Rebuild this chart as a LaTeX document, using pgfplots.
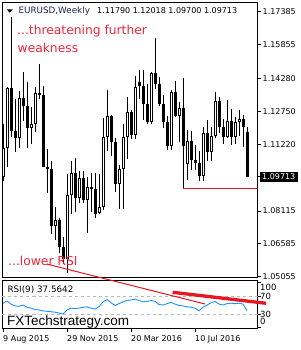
\documentclass[border=0pt]{standalone}
\usepackage{pgfplots}
\pgfplotsset{compat=1.18}
\usepackage{pgfplotstable}
\usepackage{fontspec}
\setmainfont{DejaVu Sans}
\newfontfamily\dv{DejaVu Sans}
\newfontfamily\ls{Liberation Sans}
\definecolor{txtred}{RGB}{238,38,58}
\definecolor{lnred}{RGB}{232,22,32}
\definecolor{rsiblue}{RGB}{30,144,255}
\definecolor{titleblue}{RGB}{25,35,80}
\definecolor{silverline}{RGB}{185,185,185}

\pgfplotstableread{
i o h l c
0 1.0970 1.1214 1.0950 1.1105
1 1.1105 1.1390 1.1018 1.1385
2 1.1385 1.1714 1.1156 1.1183
3 1.1183 1.1332 1.1087 1.1150
4 1.1150 1.1370 1.1105 1.1337
5 1.1337 1.1460 1.1231 1.1300
6 1.1300 1.1410 1.1105 1.1195
7 1.1195 1.1295 1.1125 1.1215
8 1.1215 1.1390 1.1180 1.1360
9 1.1360 1.1495 1.1330 1.1350
10 1.1350 1.1395 1.1017 1.1015
11 1.1015 1.1100 1.0895 1.1005
12 1.1005 1.1045 1.0705 1.0740
13 1.0740 1.0830 1.0675 1.0770
14 1.0770 1.0780 1.0617 1.0645
15 1.0645 1.0690 1.0565 1.0590
16 1.0590 1.0982 1.0524 1.0885
17 1.0885 1.1045 1.0795 1.0990
18 1.0990 1.1060 1.0805 1.0870
19 1.0870 1.0995 1.0850 1.0965
20 1.0965 1.0995 1.0850 1.0860
21 1.0860 1.0970 1.0710 1.0925
22 1.0925 1.0990 1.0805 1.0915
23 1.0915 1.0990 1.0780 1.0795
24 1.0800 1.0985 1.0795 1.0830
25 1.0830 1.1245 1.0815 1.1155
26 1.1155 1.1376 1.1090 1.1255
27 1.1255 1.1260 1.1065 1.1130
28 1.1130 1.1150 1.0900 1.0935
29 1.0935 1.1025 1.0822 1.1005
30 1.1005 1.1218 1.0822 1.1155
31 1.1155 1.1342 1.1055 1.1270
32 1.1270 1.1280 1.1145 1.1165
33 1.1165 1.1437 1.1145 1.1390
34 1.1410 1.1465 1.1330 1.1395
35 1.1395 1.1465 1.1235 1.1310
36 1.1310 1.1400 1.1215 1.1225
37 1.1225 1.1460 1.1215 1.1455
38 1.1455 1.1616 1.1380 1.1400
39 1.1400 1.1435 1.1300 1.1310
40 1.1310 1.1350 1.1195 1.1225
41 1.1225 1.1255 1.1095 1.1115
42 1.1115 1.1375 1.1095 1.1365
43 1.1365 1.1415 1.1250 1.1255
44 1.1255 1.1320 1.1130 1.1290
45 1.1290 1.1428 1.0915 1.1115
46 1.1030 1.1188 1.0955 1.1135
47 1.1135 1.1185 1.1000 1.1050
48 1.1050 1.1120 1.1000 1.1035
49 1.1035 1.1090 1.0952 1.0975
50 1.0975 1.1200 1.0950 1.1175
51 1.1175 1.1235 1.1045 1.1085
52 1.1085 1.1200 1.1045 1.1160
53 1.1160 1.1366 1.1150 1.1325
54 1.1325 1.1340 1.1175 1.1200
55 1.1200 1.1240 1.1125 1.1155
56 1.1155 1.1328 1.1150 1.1230
57 1.1230 1.1285 1.1120 1.1155
58 1.1155 1.1250 1.1122 1.1225
59 1.1225 1.1280 1.1160 1.1240
60 1.1240 1.1260 1.1110 1.1200
61 1.11790 1.12018 1.09700 1.09713
}\candles

\pgfplotstableread{
i r
0 54
1 59
2 52
3 48
4 47
5 50
6 45
7 43
8 40
9 39
10 37
11 36
12 35
13 34
14 32
15 30
16 39
17 43
18 42
19 43
20 45
21 46
22 43
23 41
24 46
25 57
26 62
27 55
28 49
29 53
30 57
31 60
32 61
33 63
34 60
35 57
36 58
37 60
38 58
39 51
40 50
41 53
42 56
43 52
44 49
45 48
46 46
47 45
48 43
49 37
50 45
51 50
52 55
53 58
54 52
55 50
56 53
57 54
58 53
59 54
60 52
61 37.56
}\rsi

\begin{document}
\begin{tikzpicture}[x=1pt,y=1pt]
\useasboundingbox[fill=white] (0,0) rectangle (300,350);
% main price panel
\begin{axis}[at={(2.5pt,72.5pt)}, anchor=south west,
  width=255pt, height=275pt, scale only axis,
  xmin=-0.125, xmax=63.625, ymin=1.05017, ymax=1.17813,
  axis line style={black, line width=1pt},
  xtick=\empty,
  ytick={1.17385,1.15855,1.14280,1.12750,1.11220,1.08115,1.06585,1.05055},
  yticklabels={1.17385,1.15855,1.14280,1.12750,1.11220,1.08115,1.06585,1.05055},
  ytick pos=right, yticklabel pos=right, tick align=outside,
  major tick length=3pt, tick style={black, line width=0.8pt},
  yticklabel style={font=\dv\fontsize{8}{8}\selectfont, anchor=west, inner sep=0pt, xshift=2pt},
  extra y ticks={1.09713}, extra y tick labels={1.09713},
  extra y tick style={yticklabel style={fill=black, text=white, inner xsep=2.5pt, inner ysep=2pt, xshift=-3pt}},
]
\addplot[black, line width=1pt, quiver={u=0, v=\thisrow{h}-\thisrow{l}}] table[x=i, y=l] {\candles};
\addplot[black, line width=3pt, quiver={u=0, v=\thisrow{c}-\thisrow{o}}] table[x=i, y=o] {\candles};
\addplot[white, line width=1pt, quiver={u=0, v=\thisrow{c}-\thisrow{o}, every arrow/.append style={shorten >=1pt, shorten <=1pt}},
  x filter/.expression={\thisrow{c}>\thisrow{o} ? x : nan}, unbounded coords=discard] table[x=i, y=o] {\candles};
\addplot[lnred, line width=1pt] coordinates {(45,1.0915) (63.625,1.0915)};
\end{axis}
% RSI panel
\begin{axis}[at={(2.5pt,21pt)}, anchor=south west,
  width=255pt, height=48pt, scale only axis,
  xmin=-0.125, xmax=63.625, ymin=-3.3, ymax=103.3,
  axis line style={black, line width=1pt},
  xtick={0,16,32,48}, xticklabels={}, xtick pos=bottom,
  ytick={0,30,70,100}, yticklabels={}, ytick pos=right,
  tick align=outside, major tick length=3pt, tick style={black, line width=0.8pt},
  clip=false,
]
\addplot[silverline, dashed, line width=0.8pt, dash pattern=on 3pt off 3pt] coordinates {(-0.125,70) (63.625,70)};
\addplot[silverline, dashed, line width=0.8pt, dash pattern=on 3pt off 3pt] coordinates {(-0.125,30) (63.625,30)};
\addplot[rsiblue, line width=0.9pt] table[x=i, y=r] {\rsi};
\addplot[lnred, line width=1pt] coordinates {(10.9,141) (50.5,52.2)};
\addplot[lnred, line width=3.3pt] coordinates {(42.4,78.2) (65.75,53.8)};
\end{axis}
% header
\fill[black] (6.7,340.7) -- (12.7,340.7) -- (9.7,337.3) -- cycle;
\node[anchor=base west, inner sep=0pt, text=titleblue, font=\dv\fontsize{8.8}{9}\selectfont] at (18.3,336) {EURUSD,Weekly};
\node[anchor=base west, inner sep=0pt, text=black, font=\dv\fontsize{8}{9}\selectfont] at (97,336) {1.11790 1.12018 1.09700 1.09713};
\node[anchor=base west, inner sep=0pt, text=txtred, font=\dv\fontsize{12.3}{13}\selectfont] at (17,315.7) {...threatening further};
\node[anchor=base west, inner sep=0pt, text=txtred, font=\dv\fontsize{12.3}{13}\selectfont] at (17.5,297.3) {weakness};
\node[anchor=base west, inner sep=0pt, text=txtred, font=\dv\fontsize{12.3}{13}\selectfont] at (8,84) {...lower RSI};
\node[anchor=base west, inner sep=0pt, text=black, font=\dv\fontsize{8.8}{9}\selectfont] at (7.3,57.3) {RSI(9) 37.5642};
\node[anchor=base west, inner sep=0pt, text=black, font=\ls\fontsize{13.5}{14}\selectfont] at (7,24) {FXTechstrategy.com};
% RSI scale labels
\node[anchor=west, inner sep=0pt, font=\dv\fontsize{8.5}{9}\selectfont] at (260,62.3) {100};
\node[anchor=west, inner sep=0pt, font=\dv\fontsize{8.5}{9}\selectfont] at (260,53.3) {70};
\node[anchor=west, inner sep=0pt, font=\dv\fontsize{8.5}{9}\selectfont] at (260,36) {30};
\node[anchor=west, inner sep=0pt, font=\dv\fontsize{8.5}{9}\selectfont] at (260,28.3) {0};
% time labels
\node[anchor=base west, inner sep=0pt, font=\dv\fontsize{8}{9}\selectfont] at (3,9) {9 Aug 2015};
\node[anchor=base west, inner sep=0pt, font=\dv\fontsize{8}{9}\selectfont] at (67,9) {29 Nov 2015};
\node[anchor=base west, inner sep=0pt, font=\dv\fontsize{8}{9}\selectfont] at (131,9) {20 Mar 2016};
\node[anchor=base west, inner sep=0pt, font=\dv\fontsize{8}{9}\selectfont] at (195,9) {10 Jul 2016};
\end{tikzpicture}
\end{document}
